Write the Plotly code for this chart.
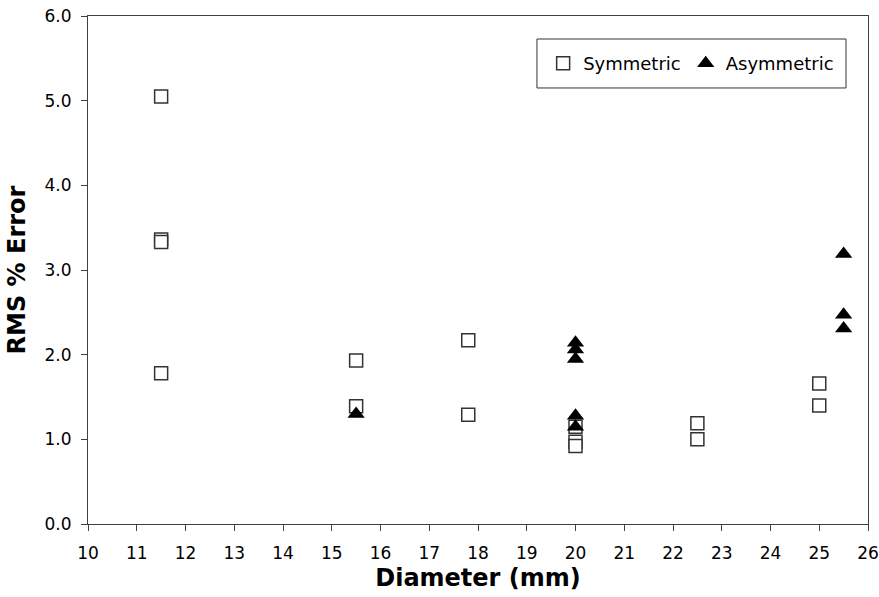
import plotly.graph_objects as go

sym_x = [11.5, 11.5, 11.5, 11.5, 15.5, 15.5, 17.8, 17.8, 20, 20, 20, 22.5, 22.5, 25, 25]
sym_y = [5.05, 3.36, 3.33, 1.78, 1.93, 1.39, 2.17, 1.29, 1.15, 0.97, 0.92, 1.19, 1.00, 1.66, 1.40]

asym_x = [15.5, 20, 20, 20, 20, 20, 25.5, 25.5, 25.5]
asym_y = [1.30, 2.14, 2.06, 1.95, 1.28, 1.15, 3.19, 2.47, 2.31]

x_ticks = list(range(10, 27))
y_ticks = [0, 1, 2, 3, 4, 5, 6]

font = "DejaVu Sans, Verdana, sans-serif"

fig = go.Figure()
fig.add_trace(go.Scatter(
    x=sym_x, y=sym_y, mode="markers", name="Symmetric",
    marker=dict(symbol="square", size=13, color="white",
                line=dict(color="#333333", width=1.5)),
))
fig.add_trace(go.Scatter(
    x=asym_x, y=asym_y, mode="markers", name="Asymmetric",
    marker=dict(symbol="triangle-up", size=15, color="black",
                line=dict(color="black", width=0)),
))

# legend frame
fig.add_shape(type="rect", xref="paper", yref="paper",
              x0=0.5756, x1=0.9718, y0=0.8583, y1=0.9547,
              line=dict(color="#333333", width=1), fillcolor="white", layer="below")

fig.update_layout(
    width=879, height=597,
    margin=dict(l=88, r=11, t=16, b=73, autoexpand=False),
    paper_bgcolor="white", plot_bgcolor="white",
    font=dict(family=font, size=17, color="black"),
    showlegend=True,
    legend=dict(
        orientation="h", x=0.963, xanchor="right", y=0.9065, yanchor="middle",
        borderwidth=0, bgcolor="rgba(0,0,0,0)",
        font=dict(family=font, size=18),
        itemsizing="trace", itemwidth=30,
    ),
    xaxis=dict(
        range=[10, 26], tickvals=x_ticks, ticktext=[str(v) for v in x_ticks],
        ticks="outside", ticklen=6, tickcolor="#404040", ticklabelstandoff=8,
        showline=True, linecolor="#404040", linewidth=1, mirror=True,
        showgrid=False, zeroline=False, automargin=False,
        tickfont=dict(family=font, size=17),
        title=dict(text="<b>Diameter (mm)</b>", font=dict(family=font, size=24), standoff=6),
    ),
    yaxis=dict(
        range=[0, 6], tickvals=y_ticks, ticktext=[f"{v:.1f}" for v in y_ticks],
        ticks="outside", ticklen=6, tickcolor="#404040", ticklabelstandoff=6,
        showline=True, linecolor="#404040", linewidth=1, mirror=True,
        showgrid=False, zeroline=False, automargin=False,
        tickfont=dict(family=font, size=17),
        title=dict(text="<b>RMS % Error</b>", font=dict(family=font, size=24), standoff=12),
    ),
)

fig.write_html("out.html")
